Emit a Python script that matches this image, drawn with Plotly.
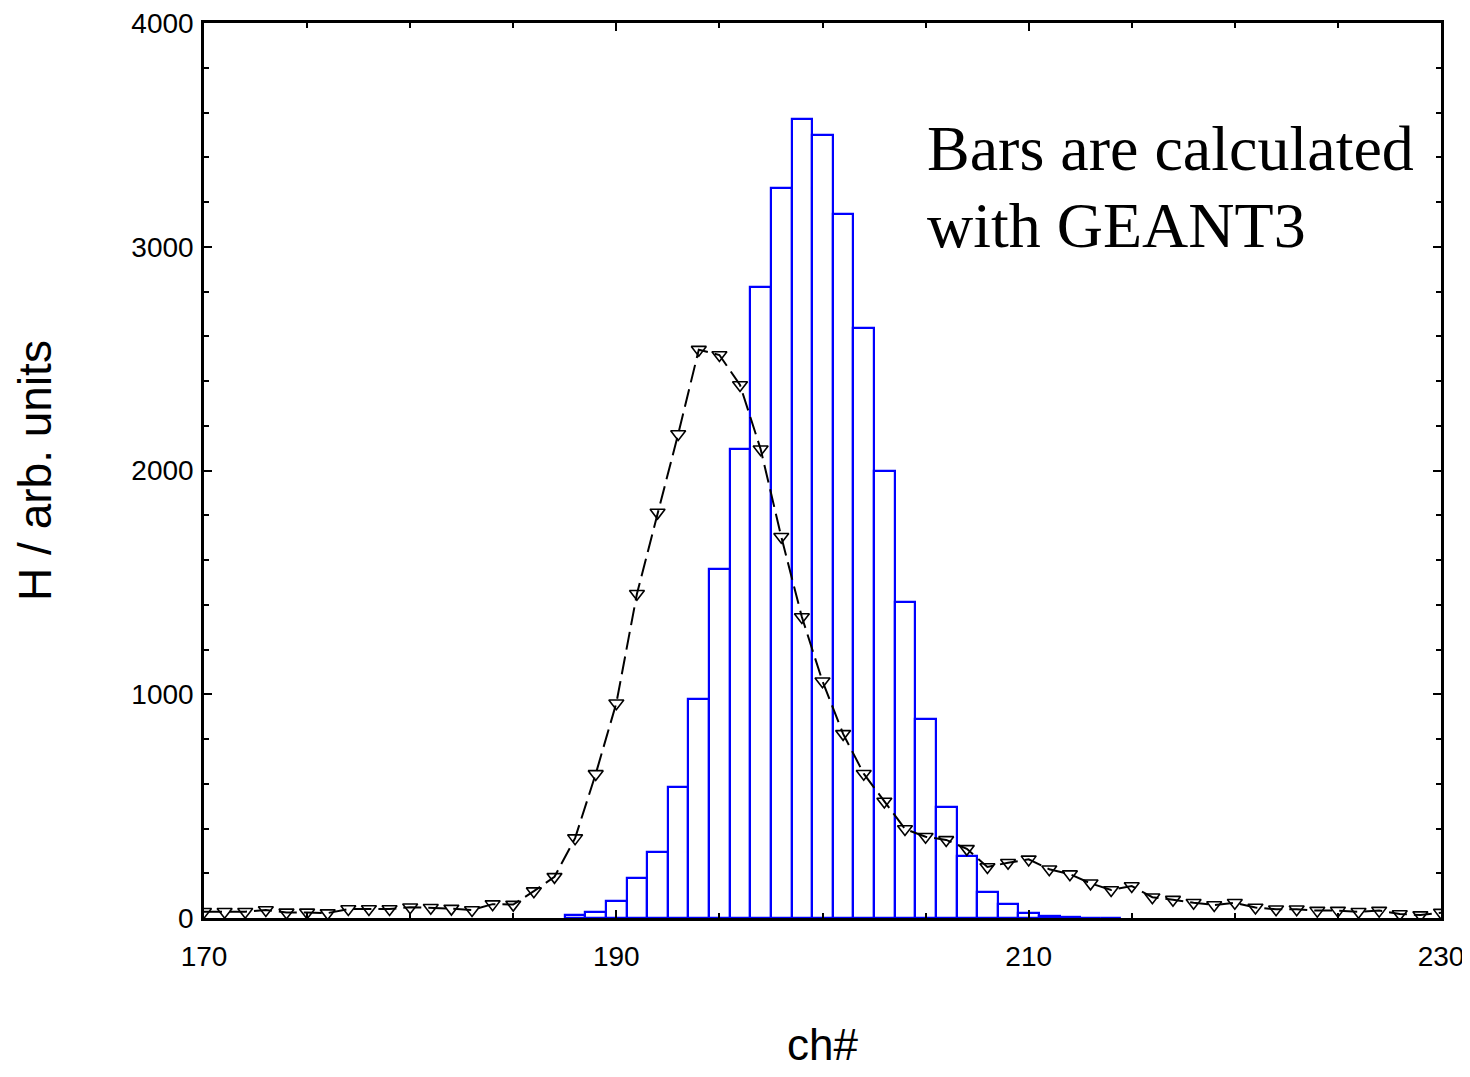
import plotly.graph_objects as go

# Histogram bars (GEANT3), channel centers and heights
bar_ch = list(range(188, 215))
bar_h = [13, 27, 76, 181, 295, 585, 980, 1562, 2098, 2821, 3261, 3572, 3498, 3145,
         2636, 2000, 1413, 889, 496, 277, 117, 61, 21, 8, 3, 0, 2]

# Measured points (open triangles)
pt_ch = list(range(170, 231))
pt_h = [28, 28, 28, 36, 25, 25, 22, 40, 40, 40, 48, 46, 42, 36, 62, 60, 120, 184,
        357, 644, 960, 1449, 1812, 2163, 2540, 2516, 2382, 2095, 1704, 1345, 1058,
        823, 645, 521, 398, 363, 349, 309, 228, 247, 262, 218, 196, 155, 125, 143,
        93, 82, 68, 58, 68, 47, 39, 39, 33, 33, 28, 33, 18, 13, 24]

x_ticks = [170, 190, 210, 230]
y_ticks = [0, 1000, 2000, 3000, 4000]

fig = go.Figure()
fig.add_trace(go.Bar(
    x=bar_ch, y=bar_h, width=1.0,
    marker=dict(color="white", line=dict(color="#0000FF", width=2.2)),
    showlegend=False,
))
fig.add_trace(go.Scatter(
    x=pt_ch, y=pt_h, mode="lines+markers",
    line=dict(color="black", width=2, dash="18px,7px"),
    marker=dict(symbol="triangle-down-open", size=13, color="black",
                line=dict(color="black", width=1.6)),
    showlegend=False,
))

fig.update_layout(
    width=1461, height=1061,
    margin=dict(l=196, r=28, t=15, b=151),
    paper_bgcolor="white", plot_bgcolor="white",
    bargap=0,
    font=dict(family="Liberation Sans, Arial, sans-serif", color="black"),
    xaxis=dict(
        range=[170, 230], tickvals=x_ticks, ticktext=[str(v) for v in x_ticks],
        ticks="inside", ticklen=8, tickwidth=1.5, tickcolor="black",
        minor=dict(dtick=5, tick0=170, ticks="inside", ticklen=5, tickcolor="black", tickwidth=1.5),
        showline=True, linecolor="black", linewidth=2.5, mirror="ticks",
        showgrid=False, zeroline=False, automargin=False, ticklabeloverflow="allow",
        ticklabelstandoff=12,
        tickfont=dict(size=28),
        title=dict(text="ch#", font=dict(size=44), standoff=80),
    ),
    yaxis=dict(
        range=[0, 4000], tickvals=y_ticks, ticktext=[str(v) for v in y_ticks],
        ticks="inside", ticklen=8, tickwidth=1.5, tickcolor="black",
        minor=dict(dtick=200, tick0=0, ticks="inside", ticklen=5, tickcolor="black", tickwidth=1.5),
        showline=True, linecolor="black", linewidth=2.5, mirror="ticks",
        showgrid=False, zeroline=False, automargin=False, ticklabeloverflow="allow",
        ticklabelstandoff=2,
        tickfont=dict(size=28),
        title=dict(text="H / arb. units", font=dict(size=46), standoff=66),
    ),
    annotations=[
        dict(text="Bars are calculated", xref="paper", yref="paper",
             x=0.583, y=0.902, xanchor="left", yanchor="top", showarrow=False,
             font=dict(family="Liberation Serif, Times New Roman, serif", size=64, color="black")),
        dict(text="with GEANT3", xref="paper", yref="paper",
             x=0.583, y=0.816, xanchor="left", yanchor="top", showarrow=False,
             font=dict(family="Liberation Serif, Times New Roman, serif", size=64, color="black")),
    ],
)

fig.write_html("out.html")
